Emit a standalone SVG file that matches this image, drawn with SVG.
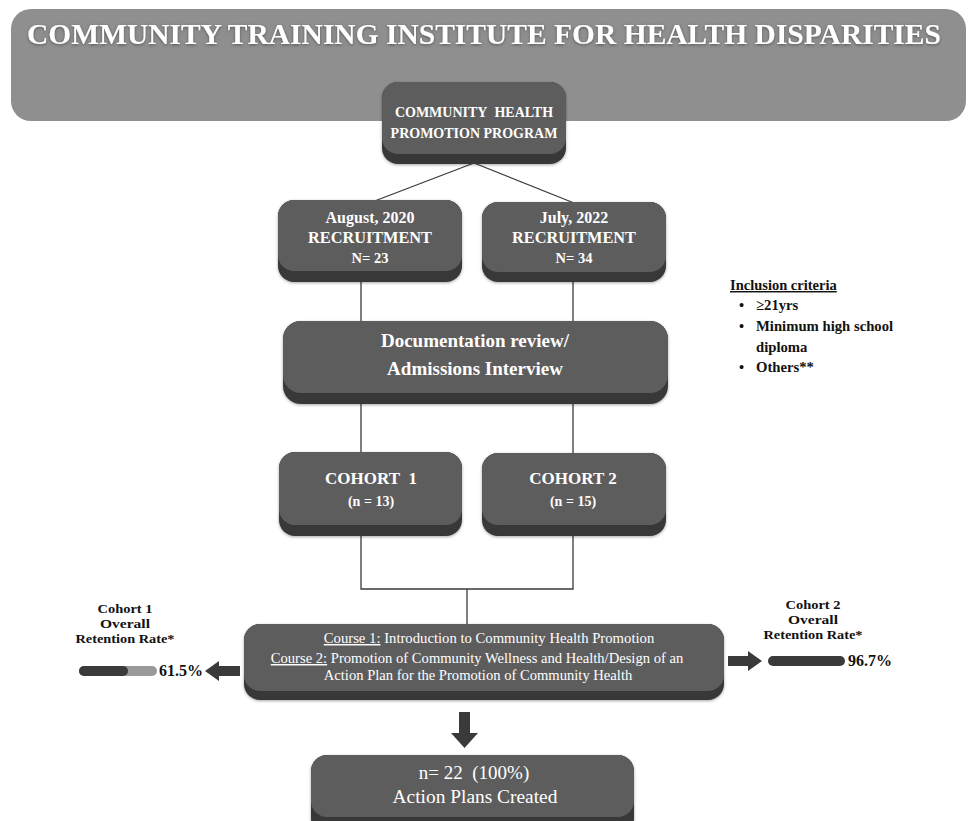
<svg xmlns="http://www.w3.org/2000/svg" width="969" height="821" viewBox="0 0 969 821">
<defs>
<style>
.t{font-family:"Liberation Serif","Times New Roman",serif;fill:#ffffff;text-anchor:middle}
.b{font-weight:bold}
.k{font-family:"Liberation Serif","Times New Roman",serif;fill:#111111;font-weight:bold}
.c{text-anchor:middle}
.ln{stroke:#3a3a3a;stroke-width:1.3;fill:none}
.base{fill:#383838}
.top{fill:#5d5d5d}
.ar{fill:#3a3a3a}
</style>
<filter id="sh" x="-5%" y="-20%" width="110%" height="150%">
<feDropShadow dx="0" dy="1" stdDeviation="1.5" flood-color="#000" flood-opacity="0.35"/>
</filter>
<filter id="tg" x="-2%" y="-40%" width="104%" height="180%">
<feDropShadow dx="0" dy="1" stdDeviation="1.5" flood-color="#444" flood-opacity="0.8"/>
</filter>
</defs>
<rect width="969" height="821" fill="#ffffff"/>

<g id="header">
<rect x="11" y="9" width="955" height="112" rx="20" fill="#8f8f8f"/>
<text class="t b" x="484" y="44" font-size="29.5" filter="url(#tg)">COMMUNITY TRAINING INSTITUTE FOR HEALTH DISPARITIES</text>
</g>

<g id="connectors">
<line class="ln" x1="474" y1="163" x2="372" y2="202"/>
<line class="ln" x1="474" y1="163" x2="574" y2="203"/>
<line class="ln" x1="361" y1="281" x2="361" y2="322"/>
<line class="ln" x1="573" y1="281" x2="573" y2="322"/>
<line class="ln" x1="361" y1="403" x2="361" y2="453"/>
<line class="ln" x1="573" y1="403" x2="573" y2="453"/>
<polyline class="ln" points="361,535 361,589 573,589 573,535"/>
<line class="ln" x1="467" y1="589" x2="467" y2="625"/>
<polygon class="ar" points="240,666 219,666 219,661 205,671 219,681 219,676 240,676"/>
<polygon class="ar" points="728,656 748,656 748,651 762,661 748,671 748,666 728,666"/>
<polygon class="ar" points="459,712 470,712 470,733 478,733 464.5,748 451,733 459,733"/>
</g>

<g id="program">
<rect class="base" x="382" y="82" width="184" height="82" rx="16" filter="url(#sh)"/>
<rect class="top" x="382" y="82" width="184" height="72" rx="16"/>
<text class="t b" x="474" y="117" font-size="14">COMMUNITY&#160; HEALTH</text>
<text class="t b" x="474" y="138" font-size="14">PROMOTION PROGRAM</text>
</g>

<g id="recruit1">
<rect class="base" x="278" y="200" width="184" height="82" rx="16" filter="url(#sh)"/>
<rect class="top" x="278" y="200" width="184" height="71" rx="16"/>
<text class="t b" x="370" y="223" font-size="16">August, 2020</text>
<text class="t b" x="370" y="243" font-size="16.3">RECRUITMENT</text>
<text class="t b" x="370" y="263" font-size="14.5">N= 23</text>
</g>

<g id="recruit2">
<rect class="base" x="482" y="202" width="184" height="80" rx="16" filter="url(#sh)"/>
<rect class="top" x="482" y="202" width="184" height="70" rx="16"/>
<text class="t b" x="574" y="223" font-size="16">July, 2022</text>
<text class="t b" x="574" y="243" font-size="16.3">RECRUITMENT</text>
<text class="t b" x="574" y="263" font-size="14.5">N= 34</text>
</g>

<g id="review">
<rect class="base" x="283" y="321" width="385" height="83" rx="18" filter="url(#sh)"/>
<rect class="top" x="283" y="321" width="385" height="72" rx="18"/>
<text class="t b" x="475" y="347" font-size="19">Documentation review/</text>
<text class="t b" x="475" y="375" font-size="19">Admissions Interview</text>
</g>

<g id="cohort1">
<rect class="base" x="279" y="452" width="183" height="84" rx="16" filter="url(#sh)"/>
<rect class="top" x="279" y="452" width="183" height="73" rx="16"/>
<text class="t b" x="371" y="484" font-size="17">COHORT&#160; 1</text>
<text class="t b" x="371" y="506" font-size="14">(n = 13)</text>
</g>

<g id="cohort2">
<rect class="base" x="482" y="453" width="184" height="83" rx="16" filter="url(#sh)"/>
<rect class="top" x="482" y="453" width="184" height="72" rx="16"/>
<text class="t b" x="573" y="484" font-size="17">COHORT 2</text>
<text class="t b" x="573" y="506" font-size="14">(n = 15)</text>
</g>

<g id="courses">
<rect class="base" x="244" y="624" width="480" height="76" rx="16" filter="url(#sh)"/>
<rect class="top" x="244" y="624" width="480" height="67" rx="16"/>
<text class="t" x="489" y="643" font-size="14.7"><tspan text-decoration="underline">Course 1:</tspan> Introduction to Community Health Promotion</text>
<text class="t" x="477" y="663" font-size="14.6"><tspan text-decoration="underline">Course 2:</tspan> Promotion of Community Wellness and Health/Design of an</text>
<text class="t" x="478" y="680" font-size="14.6">Action Plan for the Promotion of Community Health</text>
</g>

<g id="result">
<rect class="base" x="311" y="755" width="323" height="80" rx="16" filter="url(#sh)"/>
<rect class="top" x="311" y="755" width="323" height="62" rx="16"/>
<text class="t" x="474" y="779" font-size="19">n= 22&#160; (100%)</text>
<text class="t" x="475" y="803" font-size="19.4">Action Plans Created</text>
</g>

<g id="retention1">
<text class="k c" x="125" y="613" font-size="13.5" textLength="55" lengthAdjust="spacingAndGlyphs">Cohort 1</text>
<text class="k c" x="125" y="628" font-size="13.5" textLength="50" lengthAdjust="spacingAndGlyphs">Overall</text>
<text class="k c" x="125" y="643" font-size="13.5" textLength="99" lengthAdjust="spacingAndGlyphs">Retention Rate*</text>
<rect x="79" y="666" width="78" height="10" rx="5" fill="#9a9a9a"/>
<rect x="79" y="666" width="49" height="10" rx="5" fill="#3a3a3a"/>
<text class="k" x="159" y="676" font-size="16">61.5%</text>
</g>

<g id="retention2">
<text class="k c" x="813" y="609" font-size="13.5" textLength="55" lengthAdjust="spacingAndGlyphs">Cohort 2</text>
<text class="k c" x="813" y="624" font-size="13.5" textLength="50" lengthAdjust="spacingAndGlyphs">Overall</text>
<text class="k c" x="813" y="639" font-size="13.5" textLength="99" lengthAdjust="spacingAndGlyphs">Retention Rate*</text>
<rect x="768" y="656" width="77" height="10" rx="5" fill="#3a3a3a"/>
<text class="k" x="848" y="666" font-size="16">96.7%</text>
</g>

<g id="inclusion">
<text class="k" x="730" y="290" font-size="14.5" text-decoration="underline">Inclusion criteria</text>
<text class="k" x="739" y="310" font-size="14.5">•</text>
<text class="k" x="756" y="310" font-size="14.7">≥21yrs</text>
<text class="k" x="739" y="331" font-size="14.5">•</text>
<text class="k" x="756" y="331" font-size="14.7">Minimum high school</text>
<text class="k" x="756" y="352" font-size="14.7">diploma</text>
<text class="k" x="739" y="372" font-size="14.5">•</text>
<text class="k" x="756" y="372" font-size="14.7">Others**</text>
</g>
</svg>
